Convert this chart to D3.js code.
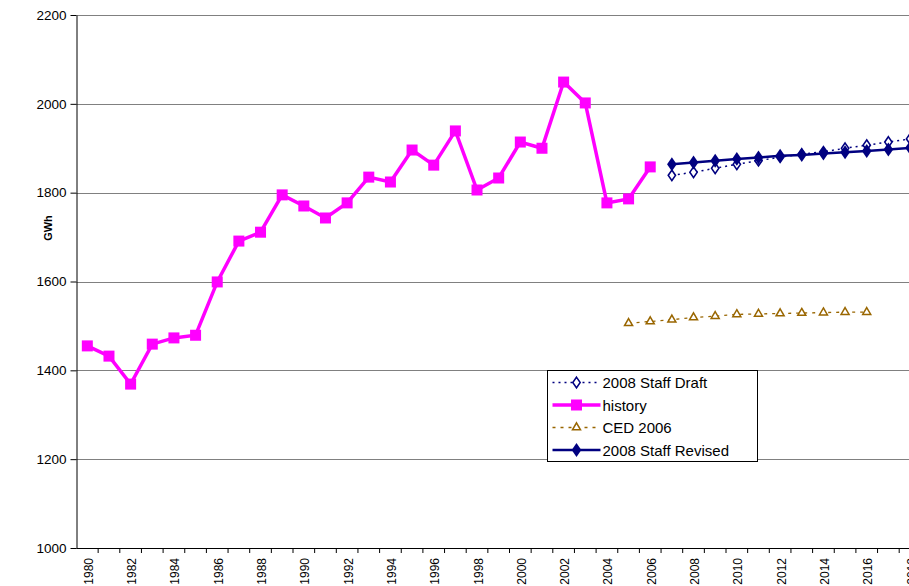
<!DOCTYPE html>
<html><head><meta charset="utf-8">
<script src="https://cdn.jsdelivr.net/npm/d3@7"></script>
<style>body{margin:0;background:#fff}svg{display:block}</style>
</head><body>
<svg id="c" width="909" height="586"></svg>
<script>
const years = d3.range(1980, 2019);
const yTicks = [1000, 1200, 1400, 1600, 1800, 2000, 2200];
const historyYears = d3.range(1980, 2007);
const historyVals = [1455,1432,1369,1459,1473,1479,1599,1691,1711,1795,1770,1743,1777,1835,1824,1896,1862,1939,1806,1833,1914,1900,2049,2002,1777,1786,1858];
const draftYears = d3.range(2007, 2019);
const draftVals = [1839,1846,1855,1864,1872,1880,1887,1892,1900,1907,1914,1921];
const revisedYears = d3.range(2007, 2019);
const revisedVals = [1864,1868,1872,1876,1879,1883,1885,1888,1891,1894,1897,1901];
const cedYears = d3.range(2005, 2017);
const cedVals = [1506,1510,1514,1519,1522,1526,1527,1528,1529,1530,1531,1531];

(function(){
const svg = d3.select("#c");
const mLeft = 76.5, mBottom = 548, mTop = 15, band = 21.65;
const x = d3.scaleBand().domain(years).range([mLeft, mLeft + band * years.length]);
const cx = yr => x(yr) + x.bandwidth() / 2;
const y = d3.scaleLinear().domain([1000, 2200]).range([mBottom, mTop]);
const FONT = "Liberation Sans, Arial, sans-serif";

// gridlines
svg.append("g").selectAll("line").data(yTicks.filter(v => v > 1000)).join("line")
  .attr("x1", mLeft).attr("x2", 909).attr("y1", d => Math.round(y(d)) + 0.5).attr("y2", d => Math.round(y(d)) + 0.5)
  .attr("stroke", "#808080").attr("stroke-width", 1);

// y axis
const ya = svg.append("g").attr("transform", `translate(${mLeft},0)`)
  .call(d3.axisLeft(y).tickValues(yTicks).tickSize(6).tickSizeOuter(0).tickPadding(4).tickFormat(d3.format("d")));
ya.select(".domain").attr("stroke", "#000");
ya.selectAll(".tick line").attr("stroke", "#000");
ya.selectAll("text").attr("font-family", FONT).attr("font-size", 13.5).attr("fill", "#000");

// x axis
const xa = svg.append("g").attr("transform", `translate(0,${mBottom})`);
xa.append("line").attr("x1", mLeft).attr("x2", 909).attr("y1", 0.5).attr("y2", 0.5).attr("stroke", "#000");
xa.selectAll("line.t").data(years).join("line").attr("class", "t")
  .attr("x1", d => x(d) + band).attr("x2", d => x(d) + band).attr("y1", 0).attr("y2", 5).attr("stroke", "#000");
xa.selectAll("text").data(years.filter(d => d % 2 === 0)).join("text")
  .attr("transform", d => `translate(${cx(d) + 5.5},10) rotate(-90)`)
  .attr("text-anchor", "end")
  .attr("font-family", FONT).attr("font-size", 12).attr("fill", "#000")
  .text(d => d);

// y label
svg.append("text").attr("transform", "translate(52,228) rotate(-90)").attr("text-anchor", "middle")
  .attr("font-family", FONT).attr("font-size", 11).attr("font-weight", "bold").text("GWh");

const line = d3.line().x(d => cx(d[0])).y(d => y(d[1]));
const zip = (a, b) => a.map((v, i) => [v, b[i]]);
const plot = svg.append("g");

// CED 2006
const ced = zip(cedYears, cedVals);
plot.append("path").attr("d", line(ced)).attr("fill", "none").attr("stroke", "#996600").attr("stroke-width", 1.3).attr("stroke-dasharray", "3,5");
const tri = d3.symbol().type(d3.symbolTriangle).size(28);
plot.selectAll("path.ced").data(ced).join("path").attr("class", "ced")
  .attr("d", tri).attr("transform", d => `translate(${cx(d[0])},${y(d[1])})`)
  .attr("fill", "#fff").attr("stroke", "#996600").attr("stroke-width", 1.5);

// history
const hist = zip(historyYears, historyVals);
plot.append("path").attr("d", line(hist)).attr("fill", "none").attr("stroke", "#FF00FF").attr("stroke-width", 3.5).attr("stroke-linejoin", "miter");
plot.selectAll("rect.h").data(hist).join("rect").attr("class", "h")
  .attr("x", d => cx(d[0]) - 5.5).attr("y", d => y(d[1]) - 5.5).attr("width", 11).attr("height", 11).attr("fill", "#FF00FF");

// Draft
const draft = zip(draftYears, draftVals);
plot.append("path").attr("d", line(draft)).attr("fill", "none").attr("stroke", "#000080").attr("stroke-width", 1.5).attr("stroke-dasharray", "2,4");
const dia = d3.symbol().type(d3.symbolDiamond).size(32);
plot.selectAll("path.dr").data(draft).join("path").attr("class", "dr")
  .attr("d", dia).attr("transform", d => `translate(${cx(d[0])},${y(d[1])}) scale(1.2,1)`)
  .attr("fill", "#fff").attr("stroke", "#000080").attr("stroke-width", 1.4);

// Revised
const rev = zip(revisedYears, revisedVals);
plot.append("path").attr("d", line(rev)).attr("fill", "none").attr("stroke", "#000080").attr("stroke-width", 2.5);
const dia2 = d3.symbol().type(d3.symbolDiamond).size(56);
plot.selectAll("path.rv").data(rev).join("path").attr("class", "rv")
  .attr("d", dia2).attr("transform", d => `translate(${cx(d[0])},${y(d[1])}) scale(1.2,1)`)
  .attr("fill", "#000080");

// legend
const lg = svg.append("g").attr("transform", "translate(547.5,370.5)");
lg.append("rect").attr("width", 210).attr("height", 91).attr("fill", "#fff").attr("stroke", "#000").attr("stroke-width", 1);
const items = [
  {name: "2008 Staff Draft", type: "draft"},
  {name: "history", type: "hist"},
  {name: "CED 2006", type: "ced"},
  {name: "2008 Staff Revised", type: "rev"}
];
items.forEach((it, i) => {
  const g = lg.append("g").attr("transform", `translate(0,${12 + i * 22.5})`);
  const x1 = 5, x2 = 53, xm = 29;
  if (it.type === "draft") {
    g.append("line").attr("x1", x1).attr("x2", x2).attr("stroke", "#000080").attr("stroke-width", 1.5).attr("stroke-dasharray", "2,4");
    g.append("path").attr("d", dia).attr("transform", `translate(${xm},0) scale(1.2,1)`).attr("fill", "#fff").attr("stroke", "#000080").attr("stroke-width", 1.4);
  } else if (it.type === "hist") {
    g.append("line").attr("x1", x1).attr("x2", x2).attr("stroke", "#FF00FF").attr("stroke-width", 3.5);
    g.append("rect").attr("x", xm - 5.5).attr("y", -5.5).attr("width", 11).attr("height", 11).attr("fill", "#FF00FF");
  } else if (it.type === "ced") {
    g.append("line").attr("x1", x1).attr("x2", x2).attr("stroke", "#996600").attr("stroke-width", 1.3).attr("stroke-dasharray", "3,5");
    g.append("path").attr("d", tri).attr("transform", `translate(${xm},0)`).attr("fill", "#fff").attr("stroke", "#996600").attr("stroke-width", 1.5);
  } else {
    g.append("line").attr("x1", x1).attr("x2", x2).attr("stroke", "#000080").attr("stroke-width", 2.5);
    g.append("path").attr("d", dia2).attr("transform", `translate(${xm},0) scale(1.2,1)`).attr("fill", "#000080");
  }
  g.append("text").attr("x", 55).attr("y", 5.5).attr("font-family", FONT).attr("font-size", 15).attr("fill", "#000").text(it.name);
});
})();
</script>
</body></html>
